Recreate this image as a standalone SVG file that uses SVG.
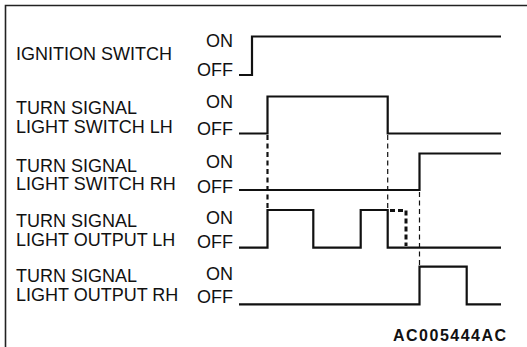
<svg xmlns="http://www.w3.org/2000/svg" width="527" height="347" viewBox="0 0 527 347">
<style>
text{font-family:"Liberation Sans",Arial,sans-serif;font-size:18px;fill:#111}
.lv{text-anchor:end}
.sig{fill:none;stroke:#111;stroke-width:2.2;stroke-linejoin:miter}
.dk{fill:none;stroke:#111;stroke-width:2.2;stroke-dasharray:5 3.5}
.dt{fill:none;stroke:#111;stroke-width:1.2;stroke-dasharray:5 3.5}
.dw{fill:none;stroke:#111;stroke-width:3;stroke-dasharray:5 3}
</style>
<rect width="527" height="347" fill="#fff"/>
<path d="M5.5,347 V5.5 H527" fill="none" stroke="#222" stroke-width="1.6"/>
<g id="ignition">
<text x="16" y="60">IGNITION SWITCH</text>
<text class="lv" x="233" y="46.7">ON</text>
<text class="lv" x="233" y="76">OFF</text>
<path class="sig" d="M239,75 H252 V36.5 H501"/>
</g>
<g id="switch-lh">
<text x="16" y="114">TURN SIGNAL</text>
<text x="16" y="132.7">LIGHT SWITCH LH</text>
<text class="lv" x="233" y="108.3">ON</text>
<text class="lv" x="233" y="135">OFF</text>
<path class="sig" d="M239,133.5 H267.5 V96.5 H387.7 V133.5 H501"/>
</g>
<g id="switch-rh">
<text x="16" y="171.5">TURN SIGNAL</text>
<text x="16" y="190">LIGHT SWITCH RH</text>
<text class="lv" x="233" y="168.3">ON</text>
<text class="lv" x="233" y="192.7">OFF</text>
<path class="sig" d="M239,190 H419.5 V153.5 H501"/>
</g>
<g id="output-lh">
<text x="16" y="226.5">TURN SIGNAL</text>
<text x="16" y="245.5">LIGHT OUTPUT LH</text>
<text class="lv" x="233" y="224">ON</text>
<text class="lv" x="233" y="248.3">OFF</text>
<path class="sig" d="M239,247.7 H267.5 V210 H313.3 V247.7 H360.7 V210 H387.7 V247.7 H501"/>
</g>
<g id="output-rh">
<text x="16" y="282">TURN SIGNAL</text>
<text x="16" y="300.5">LIGHT OUTPUT RH</text>
<text class="lv" x="233" y="280">ON</text>
<text class="lv" x="233" y="303.3">OFF</text>
<path class="sig" d="M239,304.3 H419.5 V266.7 H466.7 V304.3 H501"/>
</g>
<g id="connectors">
<path class="dk" d="M267.5,135 V209"/>
<path class="dt" d="M387.7,135 V209"/>
<path class="dt" d="M419.5,192 V266"/>
<path class="dw" d="M390,210.5 H406 V246"/>
</g>
<text x="393" y="340.7" style="font-weight:bold;font-size:16px;letter-spacing:1.5px">AC005444AC</text>
</svg>
